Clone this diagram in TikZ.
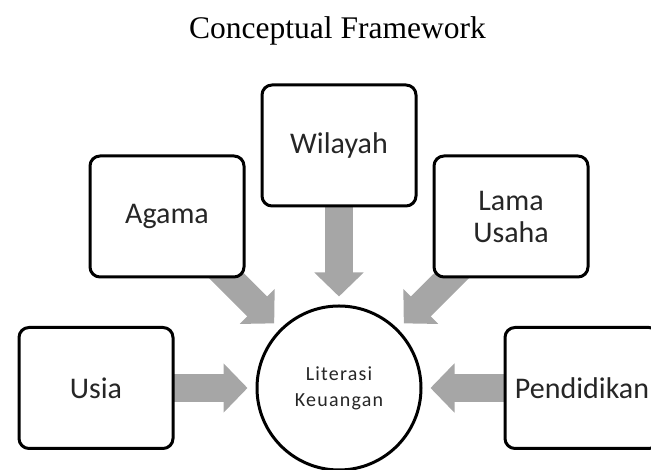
\documentclass[tikz,border=0pt]{standalone}
\usepackage{fontspec}
\setmainfont{Liberation Serif}
\newfontfamily\boxfont{Carlito}
\newfontfamily\corefont{Carlito}[LetterSpace=6]
\usetikzlibrary{arrows.meta,backgrounds}
\definecolor{arrowgray}{RGB}{166,166,166}
\tikzset{
  factor/.style={draw=black, line width=3pt, fill=white,
                 rounded corners=10pt, minimum width=154pt,
                 minimum height=121pt, inner sep=0pt, align=center,
                 text=black!85,
                 font=\boxfont\fontsize{30}{32}\selectfont},
  core/.style={circle, draw=black, line width=3pt, fill=white,
               minimum size=164pt, inner sep=0pt, align=center,
               text=black!85,
               font=\corefont\fontsize{20}{26}\selectfont},
  blockarrow/.style={draw=arrowgray, line width=28pt,
                     -{Triangle[length=24pt,width=48pt]}, shorten >=8pt},
  heading/.style={font=\fontsize{31.5}{36}\selectfont},
}

\begin{document}
\begin{tikzpicture}[x=1pt,y=1pt]
  \path[use as bounding box] (0,0) rectangle (651,470);

  \node[heading, anchor=base] (title) at (337.5,431.5) {Conceptual Framework};

  \node[core] (lit) at (339,82) {Literasi\\Keuangan};

  \node[factor] (usia) at (96,82) {Usia};
  \node[factor] (agama) at (167,253.5) {Agama};
  \node[factor] (wilayah) at (339,324.5) {Wilayah};
  \node[factor] (lama) at (511,253.5) {Lama\\Usaha};
  \node[factor] (didik) at (582,82) {Pendidikan};

  % block arrows behind the boxes
  \begin{scope}[on background layer]
    \foreach \src in {usia,agama,wilayah,lama,didik}
      \draw[blockarrow] (\src.center) -- (lit);
  \end{scope}
\end{tikzpicture}
\end{document}
